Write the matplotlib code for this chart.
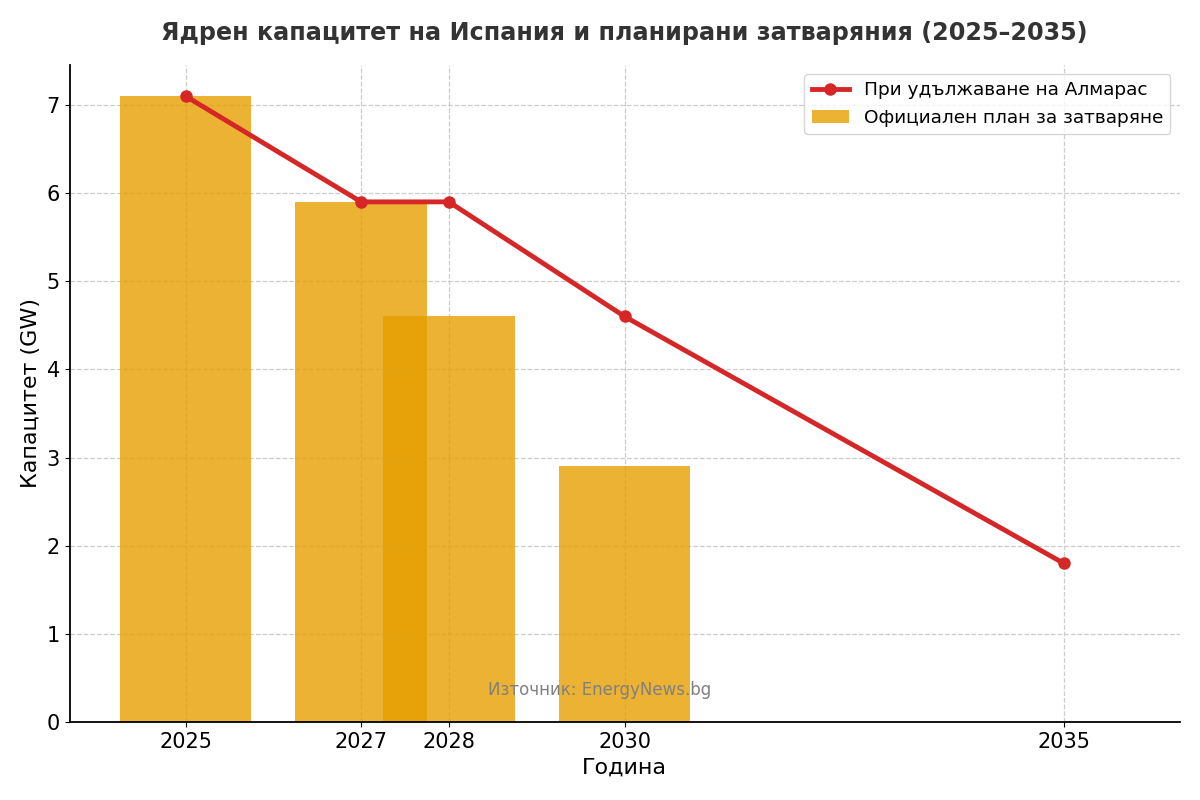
import matplotlib
matplotlib.use("Agg")
import matplotlib.pyplot as plt

bar_years = [2025, 2027, 2028, 2030]
bar_values = [7.1, 5.9, 4.6, 2.9]
line_years = [2025, 2027, 2028, 2030, 2035]
line_values = [7.1, 5.9, 5.9, 4.6, 1.8]
xticks = [2025, 2027, 2028, 2030, 2035]

fig, ax = plt.subplots(figsize=(12, 8), dpi=100)
ax.bar(bar_years, bar_values, width=1.5, color="#E69F00", alpha=0.8,
       label="Официален план за затваряне", zorder=2)
ax.plot(line_years, line_values, color="#D62728", linewidth=3.5, marker="o",
        markersize=8, label="При удължаване на Алмарас", zorder=3)

ax.set_xticks(xticks)
ax.set_xlim(2023.68, 2036.32)
ax.set_ylim(0, 7.455)
ax.tick_params(labelsize=15)
ax.set_xlabel("Година", fontsize=16)
ax.set_ylabel("Капацитет (GW)", fontsize=16)
ax.set_title("Ядрен капацитет на Испания и планирани затваряния (2025–2035)",
             fontsize=17.2, fontweight="bold", color="#333333", pad=18)
ax.grid(True, linestyle="--", color="#cccccc", linewidth=0.9, zorder=0)
ax.set_axisbelow(True)
for s in ["top", "right"]:
    ax.spines[s].set_visible(False)
ax.spines["left"].set_linewidth(1.3)
ax.spines["bottom"].set_linewidth(1.3)
ax.legend(loc="upper right", fontsize=13.3)
fig.text(0.5, 0.1375, "Източник: EnergyNews.bg", ha="center", va="center",
         fontsize=12, color="gray")
fig.subplots_adjust(left=0.058, right=0.983, top=0.919, bottom=0.0975)
fig.savefig("out.png")
